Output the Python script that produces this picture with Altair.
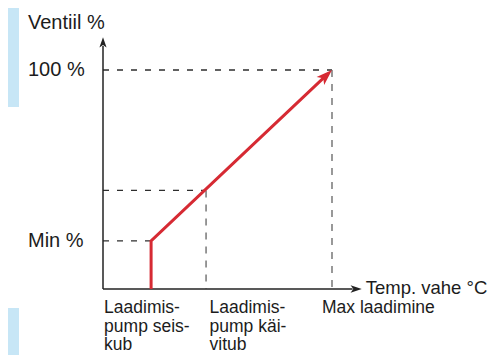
import math
import altair as alt
import pandas as pd

# ---- values ----
x_tick_pos = [21, 45, 100]            # temp. difference positions (0..100)
x_tick_labels = ["Laadimis-\npump seis-\nkub", "Laadimis-\npump käi-\nvitub", "Max laadimine"]
y_tick_pos = [100, 22]                # valve %
y_tick_labels = ["100 %", "Min %"]
mid_valve = 45                        # valve where pump starts
curve_x = [21, 21, 100]
curve_y = [0, 22, 100]
x_title = "Temp. vahe °C"
y_title = "Ventiil %"
axis_x_end = 113
axis_y_end = 115

W, H = 229, 219
PAD = {"left": 95, "top": 62, "right": 159, "bottom": 66}
FONT = "Liberation Sans"
FS = 20
FS_LAB = 17.5
TXT = "#1c1c1c"
RED = "#d62a33"
BLUE = "#c7e6f6"

xs = alt.Scale(domain=[0, 100], nice=False, zero=False)
ys = alt.Scale(domain=[0, 100], nice=False, zero=False)

def X(f="x"):
    return alt.X(f"{f}:Q", scale=xs, axis=None)

def Y(f="y"):
    return alt.Y(f"{f}:Q", scale=ys, axis=None)

one = pd.DataFrame({"a": [0]})

# decorative blue bars at the left edge
blue_top = alt.Chart(one).mark_rect(color=BLUE).encode(
    x=alt.value(-95), x2=alt.value(-84), y=alt.value(-62), y2=alt.value(37))
blue_bot = alt.Chart(one).mark_rect(color=BLUE).encode(
    x=alt.value(-95), x2=alt.value(-84), y=alt.value(238), y2=alt.value(290))

# dashed guides
h_guides = pd.DataFrame({
    "x": [0, 0, 0],
    "x2": [x_tick_pos[2], x_tick_pos[1], x_tick_pos[0]],
    "y": [y_tick_pos[0], mid_valve, y_tick_pos[1]],
})
v_guides = pd.DataFrame({
    "x": [x_tick_pos[2], x_tick_pos[1]],
    "y": [y_tick_pos[0], mid_valve],
    "y2": [0, 0],
})
hg = alt.Chart(h_guides).mark_rule(color="#2e2e2e", strokeWidth=1.3, strokeDash=[6, 8]).encode(
    x=X(), x2="x2:Q", y=Y())
vg = alt.Chart(v_guides).mark_rule(color="#6e6e6e", strokeWidth=1.4, strokeDash=[7, 7]).encode(
    x=X(), y=Y(), y2="y2:Q")

# axis lines
yaxis = alt.Chart(pd.DataFrame({"x": [0], "y": [0], "y2": [axis_y_end - 4]})).mark_rule(
    color="#222", strokeWidth=1.5).encode(x=X(), y=Y(), y2="y2:Q")
xaxis = alt.Chart(pd.DataFrame({"x": [0], "x2": [axis_x_end - 4], "y": [0]})).mark_rule(
    color="#222", strokeWidth=1.5).encode(x=X(), x2="x2:Q", y=Y())

# red valve curve, shortened slightly so the arrow head covers its end
dxp = (curve_x[2] - curve_x[1]) * W / 100
dyp = (curve_y[2] - curve_y[1]) * H / 100
L = math.hypot(dxp, dyp)
frac = 9 / L
line_x = curve_x[:2] + [curve_x[2] - (curve_x[2] - curve_x[1]) * frac]
line_y = curve_y[:2] + [curve_y[2] - (curve_y[2] - curve_y[1]) * frac]
curve = alt.Chart(pd.DataFrame({"x": line_x, "y": line_y, "o": [0, 1, 2]})).mark_line(
    color=RED, strokeWidth=3, strokeJoin="miter").encode(x=X(), y=Y(), order="o:Q")

ARROW = "M0,0 L0.55,1.6 L0,1.2 L-0.55,1.6 Z"
red_angle = math.degrees(math.atan2(dxp, dyp))
red_head = alt.Chart(pd.DataFrame({"x": [curve_x[2]], "y": [curve_y[2]]})).mark_point(
    shape=ARROW, filled=True, opacity=1, color=RED, size=400, angle=red_angle, strokeWidth=0
).encode(x=X(), y=Y())
y_head = alt.Chart(pd.DataFrame({"x": [0], "y": [axis_y_end]})).mark_point(
    shape=ARROW, filled=True, opacity=1, color="#222", size=169, angle=0, strokeWidth=0
).encode(x=X(), y=Y())
x_head = alt.Chart(pd.DataFrame({"x": [axis_x_end], "y": [0]})).mark_point(
    shape=ARROW, filled=True, opacity=1, color="#222", size=196, angle=90, strokeWidth=0
).encode(x=X(), y=Y())

# texts
ylab = alt.Chart(pd.DataFrame({"y": y_tick_pos, "t": y_tick_labels})).mark_text(
    align="left", baseline="middle", font=FONT, fontSize=FS, color=TXT
).encode(x=alt.value(-75), y=Y(), text="t:N")
ytitle = alt.Chart(pd.DataFrame({"t": [y_title]})).mark_text(
    align="left", baseline="alphabetic", font=FONT, fontSize=FS, color=TXT
).encode(x=alt.value(-75), y=alt.value(-41), text="t:N")
xtitle = alt.Chart(pd.DataFrame({"x": [axis_x_end], "y": [0], "t": [x_title]})).mark_text(
    align="left", baseline="alphabetic", font=FONT, fontSize=18.5, color=TXT, dx=4, dy=5
).encode(x=X(), y=Y(), text="t:N")

label_dx = [-47, 3.5, -10]
xlabs = []
for p, t, d in zip(x_tick_pos, x_tick_labels, label_dx):
    xlabs.append(alt.Chart(pd.DataFrame({"x": [p], "y": [0], "t": [t]})).mark_text(
        align="left", baseline="alphabetic", font=FONT, fontSize=FS_LAB, color=TXT,
        lineBreak="\n", lineHeight=18.5, dx=d, dy=24
    ).encode(x=X(), y=Y(), text="t:N"))

chart = alt.layer(
    blue_top, blue_bot, hg, vg, yaxis, xaxis, curve, red_head, y_head, x_head,
    ylab, ytitle, xtitle, *xlabs
).properties(
    width=W, height=H, padding=PAD, autosize=alt.AutoSizeParams(type="none"),
    background="white"
).configure_view(stroke=None)

chart.save("out.html", embed_options={"renderer": "svg", "actions": False})
